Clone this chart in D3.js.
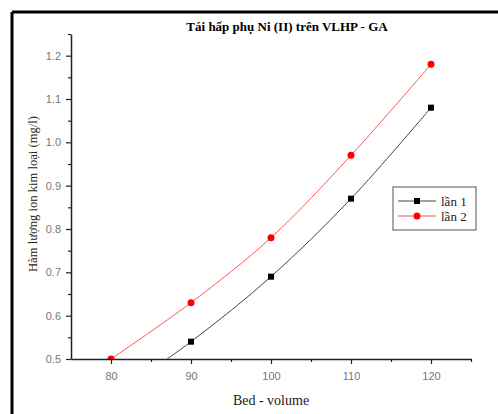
<!DOCTYPE html>
<html><head><meta charset="utf-8">
<script src="https://cdn.jsdelivr.net/npm/d3@7"></script>
<style>body{margin:0;background:#fff}svg{display:block}</style>
</head><body>
<svg id="c" width="498" height="414"></svg>
<script>
const xValues = [80, 90, 100, 110, 120];
const lan1 = [0.41, 0.54, 0.69, 0.87, 1.08];
const lan2 = [0.50, 0.63, 0.78, 0.97, 1.18];
const seriesNames = ["lần 1", "lần 2"];
const xTicks = [80, 90, 100, 110, 120];
const yTicks = [0.5, 0.6, 0.7, 0.8, 0.9, 1.0, 1.1, 1.2];
const title = "Tái hấp phụ Ni (II) trên VLHP - GA";
const xLabel = "Bed - volume";
const yLabel = "Hàm lượng ion kim loại (mg/l)";

const svg = d3.select("#c");
const L = 71, R = 471, T = 34, B = 359;
const x = d3.scaleLinear().domain([75, 125]).range([L, R]);
const y = d3.scaleLinear().domain([0.5, 1.25]).range([B, T]);

// frame
svg.append("line").attr("x1",12).attr("x2",498).attr("y1",12).attr("y2",12).attr("stroke","#000").attr("stroke-width",3);
svg.append("line").attr("x1",12).attr("x2",12).attr("y1",12).attr("y2",414).attr("stroke","#000").attr("stroke-width",3);

svg.append("clipPath").attr("id","clip").append("rect").attr("x",L).attr("y",T-10).attr("width",R-L+10).attr("height",B-T+10);

const line = d3.line().x((d,i)=>x(xValues[i])).y(d=>y(d)).curve(d3.curveCatmullRom);
const g = svg.append("g").attr("clip-path","url(#clip)");
g.append("path").datum(lan1).attr("d",line).attr("fill","none").attr("stroke","#444").attr("stroke-width",1);
g.append("path").datum(lan2).attr("d",line).attr("fill","none").attr("stroke","#f55").attr("stroke-width",1);
g.selectAll(".sq").data(lan1).join("rect").attr("x",(d,i)=>x(xValues[i])-3).attr("y",d=>y(d)-3).attr("width",6).attr("height",6).attr("fill","#000");
g.selectAll(".ci").data(lan2).join("circle").attr("cx",(d,i)=>x(xValues[i])).attr("cy",d=>y(d)).attr("r",3.5).attr("fill","#f00");

// axes
const xAxis = svg.append("g").attr("transform",`translate(0,${B})`)
  .call(d3.axisBottom(x).tickValues(xTicks).tickSize(5).tickSizeOuter(0).tickFormat(d3.format("d")));
const xMinor = svg.append("g").attr("transform",`translate(0,${B})`)
  .call(d3.axisBottom(x).tickValues([85,95,105,115,125]).tickSize(3).tickSizeOuter(0).tickFormat(""));
xMinor.select(".domain").remove();
const yAxis = svg.append("g").attr("transform",`translate(${L},0)`)
  .call(d3.axisLeft(y).tickValues(yTicks).tickSize(5).tickSizeOuter(0).tickFormat(d3.format(".1f")));
const yMinor = svg.append("g").attr("transform",`translate(${L},0)`)
  .call(d3.axisLeft(y).tickValues([0.55,0.65,0.75,0.85,0.95,1.05,1.15,1.25]).tickSize(3).tickSizeOuter(0).tickFormat(""));
yMinor.select(".domain").remove();
svg.selectAll(".domain").attr("stroke","#222").attr("stroke-width",1.5);
svg.selectAll(".tick line").attr("stroke","#222").attr("stroke-width",1.2);
svg.selectAll(".tick text").attr("fill","#777").style("font-family","Liberation Sans, Arial, sans-serif").style("font-size","11px");
xAxis.selectAll(".tick text").attr("dy","1.2em");
yAxis.selectAll(".tick text").attr("dx","-2");

// titles
svg.append("text").attr("x",287).attr("y",31).attr("text-anchor","middle")
  .style("font-family","Liberation Serif, serif").style("font-weight","bold").style("font-size","13px").text(title);
svg.append("text").attr("x",271).attr("y",405).attr("text-anchor","middle")
  .style("font-family","Liberation Serif, serif").style("font-size","14px").attr("fill","#222").text(xLabel);
svg.append("text").attr("transform","translate(37,194) rotate(-90)").attr("text-anchor","middle")
  .attr("textLength",156).attr("lengthAdjust","spacingAndGlyphs")
  .style("font-family","Liberation Serif, serif").style("font-size","13px").attr("fill","#222").text(yLabel);

// legend
const lg = svg.append("g");
lg.append("rect").attr("x",393).attr("y",187).attr("width",83).attr("height",43).attr("fill","#fff").attr("stroke","#555").attr("stroke-width",1);
const colors = ["#444","#f55"];
seriesNames.forEach((n,i)=>{
  const yy = 201 + i*15;
  lg.append("line").attr("x1",398).attr("x2",436).attr("y1",yy).attr("y2",yy).attr("stroke",colors[i]).attr("stroke-width",1);
  if(i===0) lg.append("rect").attr("x",414).attr("y",yy-3).attr("width",6).attr("height",6).attr("fill","#000");
  else lg.append("circle").attr("cx",417).attr("cy",yy).attr("r",3.5).attr("fill","#f00");
  lg.append("text").attr("x",441).attr("y",yy+4.5).style("font-family","Liberation Serif, serif").style("font-size","13px").attr("fill","#222").text(n);
});
</script>
</body></html>
